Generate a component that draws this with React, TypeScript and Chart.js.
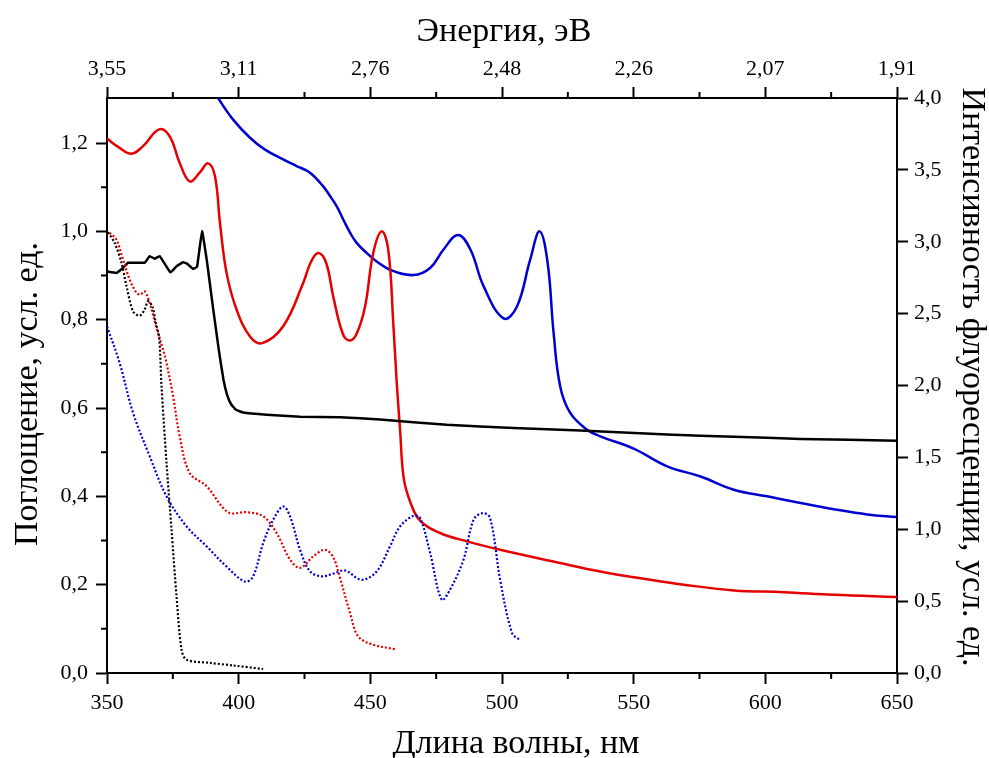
import React, { useEffect, useRef } from "react";
import { Chart, registerables } from "chart.js";

Chart.register(...registerables);

// ---- Data (wavelength, nm / values in left-axis units) ----
const blackEmX = [350, 353.6, 356, 358, 364.3, 366.2, 368.1, 370, 374.1, 376.4, 378.9, 380.4, 382.7, 384.2, 386.1, 388, 390.3, 392.5, 394.2, 395.6, 397.2, 399, 401.7, 410.6, 423.3, 438.5, 453.7, 479, 504.4, 529.7, 562.7, 588, 613.4, 650];
const blackEmY = [0.909, 0.906, 0.917, 0.929, 0.929, 0.944, 0.938, 0.944, 0.907, 0.921, 0.93, 0.927, 0.915, 0.92, 1.0, 0.93, 0.825, 0.73, 0.665, 0.63, 0.608, 0.596, 0.59, 0.585, 0.58, 0.579, 0.574, 0.562, 0.555, 0.549, 0.54, 0.535, 0.53, 0.526];

const redEmX = [350, 354.8, 359.3, 363.7, 369.8, 373.8, 377.6, 381.4, 385.2, 388.4, 391, 392.9, 395.4, 399.2, 404.3, 409, 416.9, 424.5, 427.3, 430.2, 433.2, 436, 439.7, 442.3, 444.8, 448, 451.1, 454.3, 456.8, 458.7, 460, 461.3, 462.7, 465.3, 468.9, 476.5, 486.7, 499.3, 522.1, 537.3, 556.3, 569, 588, 607, 626, 650];
const redEmY = [1.21, 1.189, 1.176, 1.193, 1.231, 1.215, 1.155, 1.113, 1.133, 1.154, 1.125, 1.019, 0.906, 0.823, 0.762, 0.747, 0.785, 0.883, 0.929, 0.951, 0.929, 0.85, 0.766, 0.753, 0.768, 0.83, 0.951, 1.0, 0.959, 0.793, 0.66, 0.55, 0.44, 0.385, 0.345, 0.317, 0.298, 0.279, 0.249, 0.23, 0.211, 0.2, 0.187, 0.183, 0.177, 0.172];

const blueEmX = [389, 392.2, 397.9, 404.3, 410, 416.9, 422, 427.1, 432.1, 434.7, 437.2, 439.7, 442.3, 444.8, 448.6, 452.4, 457.5, 466.4, 472.7, 477.8, 483.3, 488, 493, 500.6, 505.7, 510.7, 514.3, 517.3, 519.6, 522.1, 525.9, 532.3, 537.3, 550, 562.7, 575.4, 588, 600.7, 613.4, 626, 638.7, 650];
const blueEmY = [1.335, 1.302, 1.253, 1.212, 1.185, 1.163, 1.148, 1.133, 1.102, 1.08, 1.057, 1.027, 0.997, 0.974, 0.951, 0.932, 0.913, 0.901, 0.917, 0.959, 0.992, 0.959, 0.876, 0.803, 0.83, 0.936, 1.0, 0.93, 0.77, 0.649, 0.589, 0.551, 0.536, 0.508, 0.468, 0.445, 0.415, 0.4, 0.385, 0.371, 0.359, 0.353];

const blackAbsX = [350.4, 352.9, 355.5, 357.4, 359.9, 362.4, 364.3, 365.6, 367.3, 368.5, 369.8, 370.7, 372.6, 374.5, 376.4, 378.3, 380.2, 389, 397.9, 409.3];
const blackAbsY = [0.998, 0.974, 0.929, 0.876, 0.819, 0.809, 0.823, 0.842, 0.829, 0.793, 0.76, 0.65, 0.476, 0.325, 0.174, 0.053, 0.03, 0.023, 0.017, 0.009];

const redAbsX = [351, 353.6, 356.1, 358.6, 361.2, 362.7, 364.3, 366.2, 368.8, 371.3, 372.6, 375.1, 377.6, 381.4, 387.8, 396, 403, 409.3, 414.4, 419.5, 423.3, 428.3, 432.8, 435.9, 438.5, 442.3, 445.4, 451.1, 459.4];
const redAbsY = [0.997, 0.981, 0.936, 0.891, 0.861, 0.857, 0.864, 0.838, 0.782, 0.732, 0.702, 0.627, 0.536, 0.453, 0.423, 0.364, 0.364, 0.355, 0.317, 0.257, 0.238, 0.264, 0.279, 0.262, 0.215, 0.136, 0.083, 0.064, 0.054];

const blueAbsX = [350, 354.8, 359.9, 366.2, 372.6, 380.2, 387.8, 395.4, 402.4, 405.5, 409.3, 413.1, 416.9, 419.5, 423.3, 427.1, 431.5, 435.9, 440.4, 446.7, 452.4, 457.5, 461.3, 466.4, 468.9, 472.7, 477.1, 480.3, 485.4, 489.2, 492.7, 495.5, 499.3, 503.8, 506.9];
const blueAbsY = [0.785, 0.702, 0.589, 0.491, 0.4, 0.332, 0.287, 0.241, 0.207, 0.219, 0.294, 0.347, 0.377, 0.355, 0.279, 0.23, 0.219, 0.225, 0.232, 0.211, 0.23, 0.287, 0.332, 0.356, 0.351, 0.272, 0.166, 0.189, 0.257, 0.347, 0.362, 0.351, 0.211, 0.091, 0.074];

// ---- Ticks ----
const xMajorTicks = [350, 400, 450, 500, 550, 600, 650];
const xMinorTicks = [375, 425, 475, 525, 575, 625];
const topTickLabels = ["3,55", "3,11", "2,76", "2,48", "2,26", "2,07", "1,91"];
const yLeftTicks = [0, 0.2, 0.4, 0.6, 0.8, 1.0, 1.2];
const yLeftMinorTicks = [0.1, 0.3, 0.5, 0.7, 0.9, 1.1];
const yRightTicks = [0, 0.5, 1.0, 1.5, 2.0, 2.5, 3.0, 3.5, 4.0];

const xTitle = "Длина волны, нм";
const xTopTitle = "Энергия, эВ";
const yLeftTitle = "Поглощение, усл. ед.";
const yRightTitle = "Интенсивность флуоресценции, усл. ед.";

const FONT = "'Liberation Serif', 'Times New Roman', serif";
const RED = "#e60000";
const BLUE = "#0000d0";
const BLACK = "#000000";

const pts = (xs: number[], ys: number[]) => xs.map((x, i) => ({ x, y: ys[i] }));
const comma = (v: number) => v.toFixed(1).replace(".", ",");

const minorTicksPlugin = {
  id: "minorTicks",
  afterDraw(chart: any) {
    const { ctx, chartArea, scales } = chart;
    ctx.save();
    ctx.strokeStyle = BLACK;
    ctx.lineWidth = 2;
    const len = 6;
    ctx.beginPath();
    for (const v of xMinorTicks) {
      const px = scales.x.getPixelForValue(v);
      ctx.moveTo(px, chartArea.bottom);
      ctx.lineTo(px, chartArea.bottom + len);
      const pt = scales.xTop.getPixelForValue(v);
      ctx.moveTo(pt, chartArea.top);
      ctx.lineTo(pt, chartArea.top - len);
    }
    for (const v of yLeftMinorTicks) {
      const py = scales.y.getPixelForValue(v);
      ctx.moveTo(chartArea.left, py);
      ctx.lineTo(chartArea.left - len, py);
    }
    ctx.stroke();
    ctx.restore();
  },
};

const titlesPlugin = {
  id: "axisTitles",
  afterDraw(chart: any) {
    const { ctx } = chart;
    ctx.save();
    ctx.fillStyle = BLACK;
    ctx.font = `34px ${FONT}`;
    ctx.textAlign = "center";
    ctx.textBaseline = "alphabetic";
    ctx.fillText(xTitle, 516, 753);
    ctx.fillText(xTopTitle, 504, 41);
    ctx.save();
    ctx.translate(37, 394);
    ctx.rotate(-Math.PI / 2);
    ctx.fillText(yLeftTitle, 0, 0);
    ctx.restore();
    ctx.save();
    ctx.translate(963, 377);
    ctx.rotate(Math.PI / 2);
    ctx.fillText(yRightTitle, 0, 0);
    ctx.restore();
    ctx.restore();
  },
};

const gridOpts = {
  display: true,
  drawOnChartArea: false,
  drawTicks: true,
  tickLength: 11,
  tickWidth: 2,
  tickColor: BLACK,
};
const borderOpts = { display: true, color: BLACK, width: 2 };
const tickFont = { family: FONT, size: 22 };

export default function App() {
  const ref = useRef<HTMLCanvasElement | null>(null);

  useEffect(() => {
    if (!ref.current) return;
    const line = (data: any, color: string, dotted: boolean, tension: number) => ({
      data,
      borderColor: color,
      backgroundColor: color,
      borderWidth: dotted ? 2.2 : 2.5,
      borderDash: dotted ? [2, 2] : [],
      pointRadius: 0,
      fill: false,
      tension,
      xAxisID: "x",
      yAxisID: "y",
    });
    const chart = new Chart(ref.current, {
      type: "line",
      data: {
        datasets: [
          line(pts(blackAbsX, blackAbsY), BLACK, true, 0.3),
          line(pts(redAbsX, redAbsY), RED, true, 0.35),
          line(pts(blueAbsX, blueAbsY), BLUE, true, 0.35),
          line(pts(blackEmX, blackEmY), BLACK, false, 0.1),
          line(pts(redEmX, redEmY), RED, false, 0.4),
          line(pts(blueEmX, blueEmY), BLUE, false, 0.4),
        ] as any,
      },
      options: {
        responsive: false,
        devicePixelRatio: 1,
        animation: false,
        parsing: false as any,
        normalized: true,
        layout: { padding: 0 },
        plugins: { legend: { display: false }, tooltip: { enabled: false } },
        scales: {
          x: {
            type: "linear",
            position: "bottom",
            min: 350,
            max: 650,
            afterBuildTicks: (s: any) => { s.ticks = xMajorTicks.map((v) => ({ value: v })); },
            afterFit: (s: any) => { s.height = 85; },
            grid: gridOpts,
            border: borderOpts,
            ticks: { font: tickFont, color: BLACK, padding: 6, autoSkip: false, maxRotation: 0, callback: (v: any) => String(v) },
          },
          xTop: {
            axis: "x",
            type: "linear",
            position: "top",
            min: 350,
            max: 650,
            afterBuildTicks: (s: any) => { s.ticks = xMajorTicks.map((v) => ({ value: v })); },
            afterFit: (s: any) => { s.height = 98; },
            grid: gridOpts,
            border: borderOpts,
            ticks: { font: tickFont, color: BLACK, padding: 5, autoSkip: false, maxRotation: 0, callback: (_v: any, i: number) => topTickLabels[i] },
          },
          y: {
            type: "linear",
            position: "left",
            min: 0,
            max: 1.302,
            afterBuildTicks: (s: any) => { s.ticks = yLeftTicks.map((v) => ({ value: v })); },
            afterFit: (s: any) => { s.width = 107; },
            grid: gridOpts,
            border: borderOpts,
            ticks: { font: tickFont, color: BLACK, padding: 8, autoSkip: false, callback: (v: any) => comma(Number(v)) },
          },
          y2: {
            axis: "y",
            type: "linear",
            position: "right",
            min: 0,
            max: 4,
            afterBuildTicks: (s: any) => { s.ticks = yRightTicks.map((v) => ({ value: v })); },
            afterFit: (s: any) => { s.width = 92; },
            grid: gridOpts,
            border: borderOpts,
            ticks: { font: tickFont, color: BLACK, padding: 6, autoSkip: false, callback: (v: any) => comma(Number(v)) },
          },
        } as any,
      },
      plugins: [minorTicksPlugin, titlesPlugin],
    });
    return () => chart.destroy();
  }, []);

  return (
    <canvas
      ref={ref}
      width={989}
      height={758}
      style={{ position: "absolute", left: 0, top: 0, width: 989, height: 758, background: "#fff" }}
    />
  );
}
